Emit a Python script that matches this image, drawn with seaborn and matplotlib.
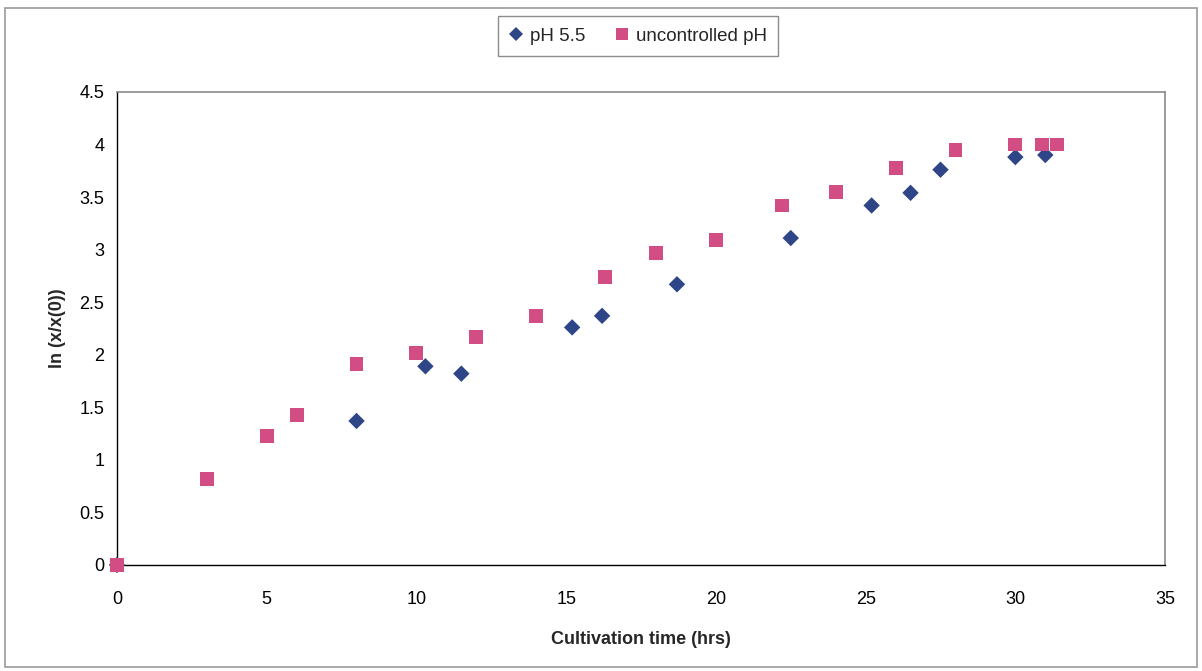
import matplotlib
matplotlib.use("Agg")
import matplotlib.pyplot as plt
from matplotlib.patches import Rectangle
from matplotlib.lines import Line2D
import seaborn as sns
import pandas as pd

# Cultivation data: ln(x/x0) versus time
time_ph55 = [0, 8.0, 10.3, 11.5, 15.2, 16.2, 18.7, 22.5, 25.2, 26.5, 27.5, 30.0, 31.0]
lnx_ph55 = [0, 1.37, 1.89, 1.82, 2.26, 2.37, 2.67, 3.11, 3.42, 3.54, 3.76, 3.88, 3.90]

time_unc = [0, 3.0, 5.0, 6.0, 8.0, 10.0, 12.0, 14.0, 16.3, 18.0, 20.0, 22.2, 24.0,
            26.0, 28.0, 30.0, 30.9, 31.4]
lnx_unc = [0, 0.82, 1.23, 1.43, 1.91, 2.02, 2.17, 2.37, 2.74, 2.97, 3.09, 3.42, 3.55,
           3.78, 3.95, 4.00, 4.00, 4.00]

series_names = ["pH 5.5", "uncontrolled pH"]
x_ticks = [0, 5, 10, 15, 20, 25, 30, 35]
y_ticks = [0, 0.5, 1, 1.5, 2, 2.5, 3, 3.5, 4, 4.5]
y_tick_labels = ["0", "0.5", "1", "1.5", "2", "2.5", "3", "3.5", "4", "4.5"]

NAVY = "#2E4587"
PINK = "#D14D84"

df_ph55 = pd.DataFrame({"t": time_ph55, "v": lnx_ph55})
df_unc = pd.DataFrame({"t": time_unc, "v": lnx_unc})

sns.set_theme(style="white")
plt.rcParams["font.family"] = ["Liberation Sans", "DejaVu Sans"]

fig = plt.figure(figsize=(12.02, 6.71), dpi=100)
fig.patch.set_facecolor("white")
ax = fig.add_axes([0.0973, 0.158, 0.872, 0.705])

sns.scatterplot(data=df_ph55, x="t", y="v", ax=ax, marker="D", s=70,
                color=NAVY, edgecolor="none", linewidth=0, zorder=3)
sns.scatterplot(data=df_unc, x="t", y="v", ax=ax, marker="s", s=100,
                color=PINK, edgecolor="none", linewidth=0, zorder=4)

ax.set_xlim(0, 35)
ax.set_ylim(0, 4.5)
ax.set_xticks(x_ticks)
ax.set_xticklabels([str(t) for t in x_ticks])
ax.set_yticks(y_ticks)
ax.set_yticklabels(y_tick_labels)
ax.tick_params(axis="both", which="major", direction="out", length=5, width=0.8,
               color="#555555", labelsize=13, labelcolor="black")
ax.tick_params(axis="x", pad=14)
ax.tick_params(axis="y", pad=4)

for side in ["left", "bottom"]:
    ax.spines[side].set_color("black")
    ax.spines[side].set_linewidth(1.0)
for side in ["top", "right"]:
    ax.spines[side].set_color("#8a8a8a")
    ax.spines[side].set_linewidth(1.2)
for sp in ax.spines.values():
    sp.set_visible(True)
    sp.set_zorder(1)

ax.set_xlabel("Cultivation time (hrs)", fontsize=13, fontweight="bold", labelpad=16)
ax.set_ylabel("ln (x/x(0))", fontsize=13, fontweight="bold", labelpad=10)

for c in ax.collections:
    c.set_clip_on(False)

handles = [
    Line2D([], [], linestyle="none", marker="D", markersize=7, color=NAVY,
           markeredgewidth=0),
    Line2D([], [], linestyle="none", marker="s", markersize=9, color=PINK,
           markeredgewidth=0),
]
leg = fig.legend(handles, series_names, loc="center", bbox_to_anchor=(0.531, 0.946),
                 ncol=2, frameon=True, fancybox=False, fontsize=13.5,
                 handlelength=0.7, handletextpad=0.4, columnspacing=1.6,
                 borderpad=0.6, borderaxespad=0)
leg.get_frame().set_edgecolor("#707070")
leg.get_frame().set_linewidth(1.0)

# Outer chart border
fig.patches.append(Rectangle((0.004, 0.006), 0.992, 0.982, transform=fig.transFigure,
                             fill=False, edgecolor="#9a9a9a", linewidth=1.2))

fig.savefig("out.png", dpi=100, facecolor="white")
